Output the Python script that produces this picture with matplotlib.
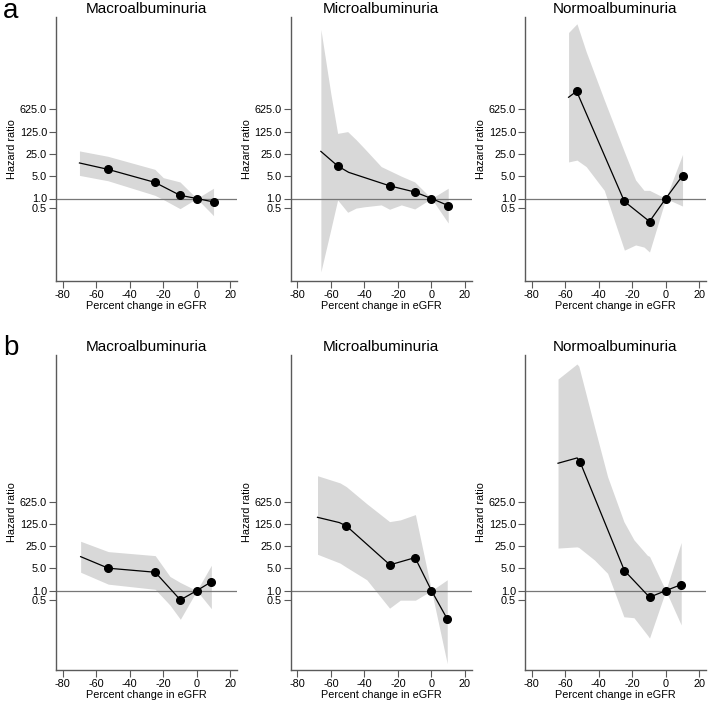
import matplotlib
matplotlib.use("Agg")
import matplotlib.pyplot as plt
from matplotlib.ticker import FixedLocator, FixedFormatter

plt.rcParams['font.family'] = ['Liberation Sans', 'DejaVu Sans']

# --- data (hazard ratios, log scale) ---
titles = ["Macroalbuminuria", "Microalbuminuria", "Normoalbuminuria"]
row_letters = ["a", "b"]
y_ticks = [0.5, 1.0, 5.0, 25.0, 125.0, 625.0]
y_tick_labels = ["0.5", "1.0", "5.0", "25.0", "125.0", "625.0"]
x_ticks = [-80, -60, -40, -20, 0, 20]

# row a
a_mac_x = [-70, -53, -25, -10, 0, 10]
a_mac_hr = [13, 8.2, 3.2, 1.26, 1.0, 0.78]
a_mac_dot = [0, 1, 1, 1, 1, 1]
a_mac_ci_x = [-70, -53, -25, -20, -10, 0, 10]
a_mac_lo = [5.3, 3.6, 1.26, 0.93, 0.48, 1.0, 0.29]
a_mac_hi = [31, 21, 8.2, 4.5, 3.3, 1.0, 2.1]

a_mic_x = [-66, -56, -49.4, -25, -10, 0, 10]
a_mic_hr = [30, 10.5, 6.6, 2.5, 1.6, 1.0, 0.6]
a_mic_dot = [0, 1, 0, 1, 1, 1, 1]
a_mic_ci_x = [-66, -60, -56, -50, -45, -40, -30, -25, -18, -10, 0, 10]
a_mic_lo = [0.005, 0.11, 0.9, 0.37, 0.5, 0.55, 0.63, 0.46, 0.63, 0.47, 1.0, 0.17]
a_mic_hi = [2e5, 1850, 110, 125, 70, 37, 10, 7.5, 5, 3.3, 1.0, 2.1]

a_nor_x = [-58, -53.2, -24.7, -9.7, 0, 10]
a_nor_hr = [1490, 2300, 0.81, 0.19, 1.0, 5.2]
a_nor_dot = [0, 1, 1, 1, 1, 1]
a_nor_ci_x = [-58, -53, -47.5, -36.7, -24.7, -18, -13, -9.7, 0, 10]
a_nor_lo = [14, 16, 10, 1.8, 0.024, 0.035, 0.03, 0.021, 1.0, 0.58]
a_nor_hi = [1.6e5, 3e5, 4e4, 1230, 29, 3.8, 1.8, 1.8, 1.0, 24]

# row b
b_mac_x = [-69.3, -52.8, -24.8, -9.8, 0, 8.7]
b_mac_hr = [11.8, 5.1, 3.8, 0.51, 1.0, 1.9]
b_mac_dot = [0, 1, 1, 1, 1, 1]
b_mac_ci_x = [-69.3, -52.8, -24.8, -16, -9.8, 0, 8.7]
b_mac_lo = [3.8, 1.6, 1.1, 0.35, 0.125, 1.0, 0.27]
b_mac_hi = [36, 17, 12.7, 2.8, 1.8, 1.0, 6.3]

b_mic_x = [-68, -55, -50.8, -24.8, -9.8, 0, 9.4]
b_mic_hr = [205, 140, 110, 6.5, 11, 1.0, 0.128]
b_mic_dot = [0, 0, 1, 1, 1, 1, 1]
b_mic_ci_x = [-68, -54.6, -50.8, -38.6, -25, -18.6, -9.6, 0, 9.4]
b_mic_lo = [14, 7.4, 5.5, 2.2, 0.28, 0.5, 0.5, 1.0, 0.005]
b_mic_hi = [4200, 2500, 1900, 550, 150, 170, 250, 1.0, 2.2]

b_nor_x = [-64.3, -52.9, -51.2, -24.7, -9.7, 0, 9.2]
b_nor_hr = [10400, 15300, 11600, 4.3, 0.62, 1.0, 1.55]
b_nor_dot = [0, 0, 1, 1, 1, 1, 1]
b_nor_ci_x = [-64.3, -53, -51.9, -42.6, -34.7, -25, -19, -11, -9.7, 0, 9.2]
b_nor_lo = [22, 24, 23, 9.3, 3.5, 0.15, 0.14, 0.04, 0.032, 1.0, 0.083]
b_nor_hi = [4.7e6, 1.4e7, 1.2e7, 1.5e5, 3900, 150, 40, 13, 12, 1.0, 33]

panels = [
    [(a_mac_x, a_mac_hr, a_mac_dot, a_mac_ci_x, a_mac_lo, a_mac_hi),
     (a_mic_x, a_mic_hr, a_mic_dot, a_mic_ci_x, a_mic_lo, a_mic_hi),
     (a_nor_x, a_nor_hr, a_nor_dot, a_nor_ci_x, a_nor_lo, a_nor_hi)],
    [(b_mac_x, b_mac_hr, b_mac_dot, b_mac_ci_x, b_mac_lo, b_mac_hi),
     (b_mic_x, b_mic_hr, b_mic_dot, b_mic_ci_x, b_mic_lo, b_mic_hi),
     (b_nor_x, b_nor_hr, b_nor_dot, b_nor_ci_x, b_nor_lo, b_nor_hi)],
]

row_ylim = [(5 ** -3.7, 5 ** 8.14), (5 ** -3.58, 5 ** 10.63)]

W, H = 710, 701
fig = plt.figure(figsize=(W / 100, H / 100), dpi=100)

lefts = [56, 290.7, 525]
width = 181
row_box = [(17, 281), (355, 670)]
axcol = "#5a5a5a"
fs = 7.8

for r in range(2):
    top, bot = row_box[r]
    for c in range(3):
        ax = fig.add_axes([lefts[c] / W, 1 - bot / H, width / W, (bot - top) / H])
        x, hr, dot, cx, lo, hi = panels[r][c]
        ax.fill_between(cx, lo, hi, color="#d8d8d8", lw=0, zorder=1)
        ax.axhline(1.0, color="#777777", lw=0.9, zorder=2)
        ax.plot(x, hr, color="black", lw=0.9, zorder=3)
        mx = [v for v, d in zip(x, dot) if d]
        my = [v for v, d in zip(hr, dot) if d]
        ax.plot(mx, my, "o", color="black", ms=5.5, zorder=4)

        ax.set_yscale("log")
        ax.set_ylim(*row_ylim[r])
        ax.set_xlim(-84, 24)
        ax.yaxis.set_major_locator(FixedLocator(y_ticks))
        ax.yaxis.set_major_formatter(FixedFormatter(y_tick_labels))
        ax.yaxis.set_minor_locator(FixedLocator([]))
        ax.set_xticks(x_ticks)
        ax.set_xticklabels([str(t) for t in x_ticks])

        for s in ["top", "right"]:
            ax.spines[s].set_visible(False)
        for s in ["left", "bottom"]:
            ax.spines[s].set_color(axcol)
            ax.spines[s].set_linewidth(1.0)
        ax.tick_params(axis="both", direction="out", length=5, width=0.8,
                       color=axcol, labelsize=fs, pad=1.5)

        ax.set_title(titles[c], fontsize=11, pad=3)
        ax.set_xlabel("Percent change in eGFR", fontsize=fs, labelpad=0.5)
        ax.set_ylabel("Hazard ratio", fontsize=fs, labelpad=2)

fig.text(3 / W, 1 - 18 / H, row_letters[0], fontsize=20, ha="left", va="baseline")
fig.text(3 / W, 1 - 355 / H, row_letters[1], fontsize=20, ha="left", va="baseline")

fig.savefig("out.png", dpi=100)
